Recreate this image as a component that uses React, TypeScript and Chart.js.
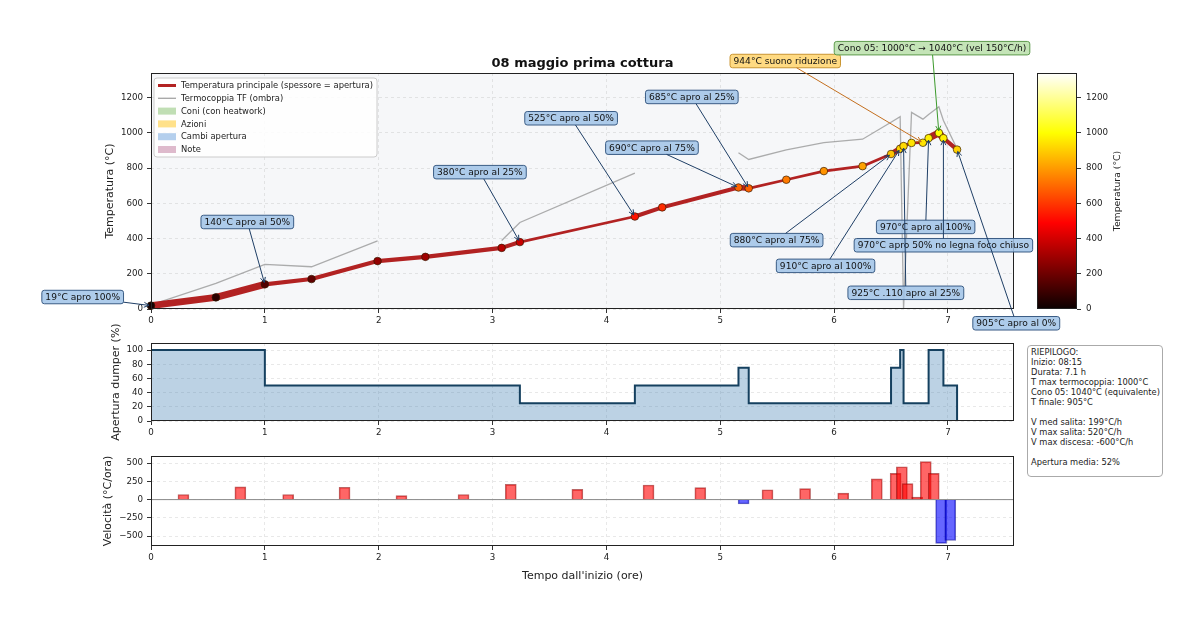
import { useEffect, useRef } from "react"
import { Chart, registerables } from "chart.js"

Chart.register(...registerables)

const FONT = "'DejaVu Sans', 'Liberation Sans', sans-serif"
Chart.defaults.font.family = FONT
Chart.defaults.color = "#222"

// letture: ore dall'inizio, temperatura principale, termocoppia TF, apertura dumper (%)
const ore = [0, 0.57, 1.0, 1.41, 1.99, 2.41, 3.08, 3.24, 4.25, 4.49, 5.16, 5.25, 5.58, 5.91, 6.25, 6.5, 6.58, 6.61, 6.68, 6.78, 6.83, 6.92, 6.96, 7.08]
const temperatura = [19, 66, 140, 170, 272, 296, 347, 380, 525, 577, 690, 685, 734, 783, 811, 880, 910, 925, 943, 944, 970, 1000, 970, 905]
const termocoppiaTF = [23, 145, 253, 240, 387, null, 389, 491, 771, null, 887, 849, 904, 945, 964, 1060, 1092, 0, 1116, 1078, 1105, 1148, 1070, 910]
const apertura = [100, 100, 50, 50, 50, 50, 50, 25, 50, 50, 75, 25, 25, 25, 25, 75, 100, 25, 25, 25, 100, 100, 50, 0]

// velocità (°C/ora) a metà di ogni intervallo
const velOre = [0.285, 0.785, 1.205, 1.7, 2.2, 2.745, 3.16, 3.745, 4.37, 4.825, 5.205, 5.415, 5.745, 6.08, 6.375, 6.54, 6.595, 6.645, 6.73, 6.805, 6.875, 6.94, 7.02]
const velocita = [70, 175, 70, 170, 55, 70, 210, 140, 200, 165, -60, 135, 150, 90, 285, 360, 450, 220, 35, 520, 360, -600, -560]

// limiti e tacche degli assi
const oreMax = 7.58
const tempMax = 1340
const dumperMax = 110
const velMin = -636
const velMax = 598
const velTacche = [-500, -250, 0, 250, 500]

// note: testo, lettura a cui punta, tipo
const noteTesti = [
  "19°C apro 100%",
  "140°C apro al 50%",
  "380°C apro al 25%",
  "525°C apro al 50%",
  "690°C apro al 75%",
  "685°C apro al 25%",
  "880°C apro al 75%",
  "910°C apro al 100%",
  "925°C .110 apro al 25%",
  "944°C suono riduzione",
  "970°C apro al 100%",
  "Cono 05: 1000°C → 1040°C (vel 150°C/h)",
  "970°C apro 50% no legna foco chiuso",
  "905°C apro al 0%",
]
const noteLettura = [0, 2, 7, 8, 10, 11, 15, 16, 17, 19, 20, 21, 22, 23]
const noteTipo = ["apertura", "apertura", "apertura", "apertura", "apertura", "apertura", "apertura", "apertura", "apertura", "azione", "apertura", "cono", "apertura", "apertura"]
// dove sta il riquadro di ogni nota (ore, °C)
const noteBoxOre = [-0.6, 0.846, 2.889, 3.69, 4.4, 4.75, 5.495, 5.925, 6.63, 5.571, 6.804, 6.86, 6.96, 7.6]
const noteBoxTemp = [68, 494, 777, 1083, 916, 1204, 391, 245, 92, 1408, 466, 1481, 362, -81]

const legendaVoci = [
  "Temperatura principale (spessore = apertura)",
  "Termocoppia TF (ombra)",
  "Coni (con heatwork)",
  "Azioni",
  "Cambi apertura",
  "Note",
]

const riepilogo = [
  "RIEPILOGO:",
  "Inizio: 08:15",
  "Durata: 7.1 h",
  "T max termocoppia: 1000°C",
  "Cono 05: 1040°C (equivalente)",
  "T finale: 905°C",
  "",
  "V med salita: 199°C/h",
  "V max salita: 520°C/h",
  "V max discesa: -600°C/h",
  "",
  "Apertura media: 52%",
]

const stileNota: Record<string, { fill: string; edge: string; arrow: string }> = {
  apertura: { fill: "rgba(160,195,232,0.85)", edge: "#3a5c85", arrow: "#1f3f66" },
  azione: { fill: "rgba(255,212,108,0.85)", edge: "#c99532", arrow: "#c46f1e" },
  cono: { fill: "rgba(190,225,175,0.9)", edge: "#5d9a4c", arrow: "#3c9a2c" },
}

const legendaColori = ["#b22222", "rgba(140,140,140,0.8)", "rgba(150,200,130,0.6)", "rgba(255,205,60,0.6)", "rgba(130,175,225,0.6)", "rgba(200,140,170,0.6)"]

function hot(t: number) {
  const v = Math.max(0, Math.min(1, t / tempMax))
  const r = Math.min(1, 0.0416 + (v / 0.365) * 0.9584)
  const g = Math.max(0, Math.min(1, (v - 0.365) / 0.381))
  const b = Math.max(0, Math.min(1, (v - 0.746) / 0.254))
  return `rgb(${Math.round(r * 255)},${Math.round(g * 255)},${Math.round(b * 255)})`
}

const fmt = (v: any) => (v < 0 ? "\u2212" + Math.abs(v) : String(v))

const gridOpts = {
  color: "rgba(160,160,160,0.3)",
  lineWidth: 0.8,
  tickLength: 4,
  tickColor: "#333",
  tickWidth: 1,
  tickBorderDash: [],
}
const borderOpts = { display: false, dash: [3, 3] }

function xScaleOpts(title: boolean, height: number) {
  return {
    type: "linear",
    min: 0,
    max: oreMax,
    offset: false,
    ticks: { stepSize: 1, includeBounds: false, padding: 3, maxRotation: 0, font: { size: 8.7 }, callback: fmt },
    grid: { ...gridOpts, offset: false },
    border: borderOpts,
    title: { display: title, text: "Tempo dall'inizio (ore)", font: { size: 11 } },
    afterFit: (s: any) => {
      s.height = height
    },
  }
}

function yScaleOpts(min: number, max: number, step: number, text: string, titlePad: number) {
  return {
    min,
    max,
    ticks: { stepSize: step, includeBounds: false, padding: 4, font: { size: 8.7 }, callback: fmt },
    grid: gridOpts,
    border: borderOpts,
    title: { display: true, text, font: { size: 11 }, padding: { top: titlePad, bottom: 4 } },
    afterFit: (s: any) => {
      s.width = 51
    },
  }
}

const cornice = {
  id: "cornice",
  afterDatasetsDraw(chart: any) {
    const { ctx, chartArea: a } = chart
    ctx.save()
    ctx.strokeStyle = "#222"
    ctx.lineWidth = 1
    ctx.strokeRect(Math.round(a.left) + 0.5, Math.round(a.top) + 0.5, Math.round(a.width) - 1, Math.round(a.height) - 1)
    ctx.restore()
  },
}

function drawLegend(chart: any) {
  const { ctx, chartArea: a } = chart
  const x0 = a.left + 3
  const y0 = a.top + 5
  ctx.save()
  ctx.beginPath()
  ctx.roundRect(x0, y0, 223, 79, 3)
  ctx.fillStyle = "rgba(255,255,255,0.85)"
  ctx.fill()
  ctx.strokeStyle = "#cccccc"
  ctx.lineWidth = 1
  ctx.stroke()
  ctx.font = `8.4px ${FONT}`
  ctx.textBaseline = "middle"
  ctx.textAlign = "left"
  legendaVoci.forEach((testo, i) => {
    const y = y0 + 7.5 + i * 12.8
    if (i < 2) {
      ctx.strokeStyle = legendaColori[i]
      ctx.lineWidth = i === 0 ? 3 : 1.3
      ctx.beginPath()
      ctx.moveTo(x0 + 4, y)
      ctx.lineTo(x0 + 22, y)
      ctx.stroke()
    } else {
      ctx.fillStyle = legendaColori[i]
      ctx.fillRect(x0 + 4, y - 3.5, 18, 7)
    }
    ctx.fillStyle = "#222"
    ctx.fillText(testo, x0 + 27, y + 0.5)
  })
  ctx.restore()
}

function drawNotes(chart: any) {
  const { ctx } = chart
  const xs = chart.scales.x
  const ys = chart.scales.y
  ctx.save()
  ctx.font = `9.1px ${FONT}`
  const boxes = noteTesti.map((testo, i) => ({
    cx: xs.getPixelForValue(noteBoxOre[i]),
    cy: ys.getPixelForValue(noteBoxTemp[i]),
    w: ctx.measureText(testo).width + 7,
    h: 13.5,
  }))
  boxes.forEach((b, i) => {
    const st = stileNota[noteTipo[i]]
    ctx.beginPath()
    ctx.roundRect(b.cx - b.w / 2, b.cy - b.h / 2, b.w, b.h, 2.5)
    ctx.fillStyle = st.fill
    ctx.fill()
    ctx.strokeStyle = st.edge
    ctx.lineWidth = 1
    ctx.stroke()
    ctx.fillStyle = "#111"
    ctx.textAlign = "center"
    ctx.textBaseline = "middle"
    ctx.fillText(noteTesti[i], b.cx, b.cy + 0.5)
  })
  boxes.forEach((b, i) => {
    const k = noteLettura[i]
    const tx = xs.getPixelForValue(ore[k])
    const ty = ys.getPixelForValue(temperatura[k])
    const dx = tx - b.cx
    const dy = ty - b.cy
    const s = Math.min(dx ? b.w / 2 / Math.abs(dx) : Infinity, dy ? b.h / 2 / Math.abs(dy) : Infinity)
    const sx = b.cx + dx * s
    const sy = b.cy + dy * s
    const len = Math.hypot(tx - sx, ty - sy)
    const ux = (tx - sx) / len
    const uy = (ty - sy) / len
    const ex = tx - ux * 2
    const ey = ty - uy * 2
    ctx.strokeStyle = stileNota[noteTipo[i]].arrow
    ctx.lineWidth = 1
    ctx.beginPath()
    ctx.moveTo(sx, sy)
    ctx.lineTo(ex, ey)
    const hl = 5
    const hw = 2.5
    ctx.moveTo(ex - ux * hl - uy * hw, ey - uy * hl + ux * hw)
    ctx.lineTo(ex, ey)
    ctx.lineTo(ex - ux * hl + uy * hw, ey - uy * hl - ux * hw)
    ctx.stroke()
  })
  ctx.restore()
}

const decoroPrincipale = {
  id: "decoroPrincipale",
  beforeDraw(chart: any) {
    const { ctx, chartArea: a } = chart
    ctx.save()
    ctx.fillStyle = "#f6f7f9"
    ctx.fillRect(a.left, a.top, a.width, a.height)
    ctx.restore()
  },
  afterDraw(chart: any) {
    const { ctx, chartArea: a } = chart
    ctx.save()
    ctx.font = `bold 13px ${FONT}`
    ctx.fillStyle = "#111"
    ctx.textAlign = "center"
    ctx.textBaseline = "middle"
    ctx.fillText("08 maggio prima cottura", (a.left + a.right) / 2, a.top - 9)
    ctx.restore()
    drawLegend(chart)
    drawNotes(chart)
  },
}

const lineaZero = {
  id: "lineaZero",
  beforeDatasetsDraw(chart: any) {
    const { ctx, chartArea: a } = chart
    const y = chart.scales.y.getPixelForValue(0)
    ctx.save()
    ctx.strokeStyle = "#888"
    ctx.lineWidth = 1
    ctx.beginPath()
    ctx.moveTo(a.left, y)
    ctx.lineTo(a.right, y)
    ctx.stroke()
    ctx.restore()
  },
}

// titolo della barra colori, letto dal basso verso l'alto come in matplotlib
const titoloBarra = {
  id: "titoloBarra",
  afterDraw(chart: any) {
    const { ctx, chartArea: a } = chart
    ctx.save()
    ctx.translate(a.right + 41, (a.top + a.bottom) / 2)
    ctx.rotate(-Math.PI / 2)
    ctx.font = `9.3px ${FONT}`
    ctx.fillStyle = "#222"
    ctx.textAlign = "center"
    ctx.textBaseline = "middle"
    ctx.fillText("Temperatura (°C)", 0, 0)
    ctx.restore()
  },
}

const noPlugins = { legend: { display: false }, tooltip: { enabled: false } }

export default function App() {
  const mainRef = useRef<HTMLCanvasElement | null>(null)
  const dumperRef = useRef<HTMLCanvasElement | null>(null)
  const velRef = useRef<HTMLCanvasElement | null>(null)
  const cbarRef = useRef<HTMLCanvasElement | null>(null)

  useEffect(() => {
    if (!mainRef.current || !dumperRef.current || !velRef.current || !cbarRef.current) return
    const charts: Chart[] = []

    charts.push(
      new Chart(mainRef.current, {
        type: "line",
        data: {
          datasets: [
            {
              label: "Temperatura principale",
              data: ore.map((x, i) => ({ x, y: temperatura[i] })),
              borderColor: "#b22222",
              borderCapStyle: "round",
              borderJoinStyle: "round",
              segment: { borderWidth: (c: any) => 1.3 + apertura[c.p0DataIndex] * 0.056 },
              pointRadius: 3.8,
              pointBackgroundColor: temperatura.map(hot),
              pointBorderColor: "rgba(50,25,0,0.85)",
              pointBorderWidth: 0.8,
              clip: false,
            } as any,
            {
              label: "Termocoppia TF",
              data: ore.map((x, i) => ({ x, y: termocoppiaTF[i] })),
              borderColor: "rgba(140,140,140,0.7)",
              borderWidth: 1.3,
              pointRadius: 0,
              spanGaps: false,
            } as any,
          ],
        },
        options: {
          animation: false,
          responsive: false,
          layout: { padding: { left: 100, right: 186, top: 73, bottom: 9 } },
          plugins: noPlugins,
          scales: {
            x: xScaleOpts(false, 22),
            y: yScaleOpts(0, tempMax, 200, "Temperatura (°C)", 4),
          } as any,
        },
        plugins: [cornice, decoroPrincipale],
      })
    )

    charts.push(
      new Chart(dumperRef.current, {
        type: "line",
        data: {
          datasets: [
            {
              data: ore.map((x, i) => ({ x, y: apertura[i] })),
              stepped: true,
              fill: "origin",
              backgroundColor: "rgba(70,130,180,0.36)",
              borderColor: "#15405f",
              borderWidth: 2,
              pointRadius: 0,
            } as any,
          ],
        },
        options: {
          animation: false,
          responsive: false,
          layout: { padding: { left: 100, right: 186, top: 25, bottom: 2 } },
          plugins: noPlugins,
          scales: {
            x: xScaleOpts(false, 22),
            y: yScaleOpts(0, dumperMax, 20, "Apertura dumper (%)", 10),
          } as any,
        },
        plugins: [cornice],
      })
    )

    const velY: any = yScaleOpts(velMin, velMax, 250, "Velocità (°C/ora)", 2)
    velY.afterBuildTicks = (s: any) => {
      s.ticks = velTacche.map((value) => ({ value }))
    }

    charts.push(
      new Chart(velRef.current, {
        type: "bar",
        data: {
          datasets: [
            {
              data: velOre.map((x, i) => ({ x, y: velocita[i] })),
              backgroundColor: velocita.map((v) => (v >= 0 ? "rgba(255,0,0,0.6)" : "rgba(0,0,255,0.6)")),
              borderColor: velocita.map((v) => (v >= 0 ? "rgba(140,0,0,0.6)" : "rgba(0,0,140,0.6)")),
              borderWidth: 1,
              barThickness: 11,
            } as any,
          ],
        },
        options: {
          animation: false,
          responsive: false,
          layout: { padding: { left: 100, right: 186, top: 11, bottom: 31 } },
          plugins: noPlugins,
          scales: {
            x: xScaleOpts(true, 41),
            y: velY,
          } as any,
        },
        plugins: [cornice, lineaZero],
      })
    )

    charts.push(
      new Chart(cbarRef.current, {
        type: "bar",
        data: {
          labels: [""],
          datasets: [
            {
              data: [tempMax],
              backgroundColor: (c: any) => {
                const a = c.chart.chartArea
                if (!a) return "#000"
                const y = c.chart.scales.y
                const g = c.chart.ctx.createLinearGradient(0, y.getPixelForValue(0), 0, y.getPixelForValue(tempMax))
                g.addColorStop(0, "rgb(10,0,0)")
                g.addColorStop(0.365, "rgb(255,0,0)")
                g.addColorStop(0.746, "rgb(255,255,0)")
                g.addColorStop(1, "rgb(255,255,255)")
                return g
              },
              barPercentage: 1,
              categoryPercentage: 1,
              borderWidth: 0,
            } as any,
          ],
        },
        options: {
          animation: false,
          responsive: false,
          layout: { padding: { left: 37, right: 72, top: 13, bottom: 11 } },
          plugins: noPlugins,
          scales: {
            x: { display: false },
            y: {
              position: "right",
              min: 0,
              max: tempMax,
              ticks: { stepSize: 200, includeBounds: false, padding: 5, font: { size: 8.7 }, callback: fmt },
              grid: { drawOnChartArea: false, tickLength: 4, tickColor: "#333", tickWidth: 1 },
              border: { display: false },
              title: { display: false },
              afterFit: (s: any) => {
                s.width = 51
              },
            },
          } as any,
        },
        plugins: [cornice, titoloBarra],
      })
    )

    return () => {
      charts.forEach((c) => c.destroy())
    }
  }, [])

  const abs = (left: number, top: number): React.CSSProperties => ({ position: "absolute", left, top, display: "block" })

  return (
    <div style={{ position: "absolute", left: 0, top: 0, width: 1200, height: 618, background: "#fff", fontFamily: FONT, overflow: "hidden" }}>
      <canvas ref={cbarRef} width={200} height={260} style={abs(1000, 60)} />
      <canvas ref={velRef} width={1200} height={173} style={abs(0, 445)} />
      <canvas ref={dumperRef} width={1200} height={127} style={abs(0, 318)} />
      <canvas ref={mainRef} width={1200} height={340} style={abs(0, 0)} />
      <div
        style={{
          position: "absolute",
          left: 1027,
          top: 345,
          width: 128,
          height: 127,
          padding: "1px 3px 2px 3px",
          border: "1px solid #aaa",
          borderRadius: 4,
          background: "#fff",
          fontSize: 8.3,
          lineHeight: "10px",
          color: "#222",
          whiteSpace: "pre",
        }}
      >
        {riepilogo.map((r, i) => (
          <div key={i}>{r || "\u00a0"}</div>
        ))}
      </div>
    </div>
  )
}
